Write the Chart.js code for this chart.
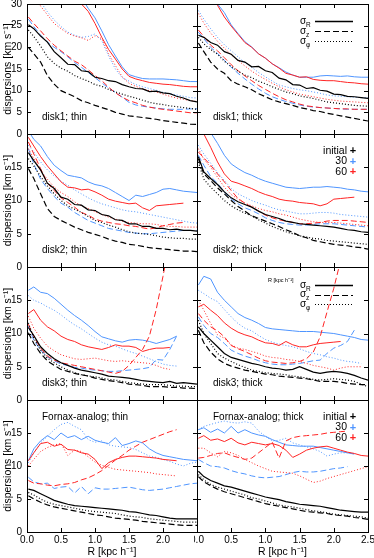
<!doctype html>
<html>
<head>
<meta charset="utf-8">
<title>dispersions</title>
<script src="https://cdn.jsdelivr.net/npm/chart.js@4"></script>
<style>
  body { margin: 0; background: #fff; }
  #wrap { position: relative; width: 374px; height: 558px; overflow: hidden; }
  #wrap canvas { position: absolute; }
</style>
</head>
<body>
<div id="wrap"></div>
<script>
// radius grid (kpc/h)
const R = [0.02,0.1,0.2,0.3,0.4,0.5,0.6,0.7,0.8,0.9,1.0,1.1,1.2,1.3,1.4,1.5,1.6,1.7,1.8,1.9,2.0,2.1,2.2,2.3,2.4,2.5];

// disk1; thin   (k = initial, r = 60, b = 30 ; R / z / phi)
const a_kR = [25.2,24.3,22.6,21.2,19.0,17.6,16.1,16.0,14.6,14.4,13.1,12.8,12.3,12.1,11.4,10.9,10.5,10.4,9.8,9.9,9.5,9.3,8.7,8.3,7.7,7.4];
const a_kz = [20.0,18.5,16.6,13.5,11.5,10.0,9.3,8.6,7.7,7.2,6.6,6.1,5.6,5.0,4.6,4.2,4.0,3.8,3.6,3.4,3.1,2.9,2.7,2.5,2.3,2.2];
const a_kp = [24.0,22.5,20.3,17.8,16.3,15.2,14.5,13.5,12.8,12.2,11.4,11.0,10.3,9.7,9.2,8.7,8.3,7.8,7.3,7.0,6.8,6.5,6.3,6.1,5.9,5.7];
const a_rR = [48,46,43,40,37.5,35.5,33.5,31.8,30.0,28.3,25.5,22.3,19.5,17.3,15.0,13.3,12.7,12.3,11.9,11.7,11.5,11.4,11.2,11.0,10.9,10.9];
const a_rz = [27.0,25.5,23.8,22.0,20.5,19.2,18.0,16.8,16.0,14.8,13.5,12.3,10.8,9.5,8.5,7.7,7.2,6.6,6.2,5.9,5.7,5.5,5.3,5.1,4.9,4.9];
const a_rp = [36,33,29.5,27.5,25.5,24.3,23.2,22.6,22.2,21.6,22.7,22.0,18.5,15.8,13.2,11.7,11.0,10.4,10.0,9.7,9.2,8.7,8.3,8.0,7.7,7.5];
const a_bR = [50,48,45,42,39.5,37.5,35.5,33.5,31.5,29.0,26.8,23.8,20.6,18.0,15.5,13.7,13.2,12.8,12.7,12.7,12.7,12.6,12.5,12.3,12.1,12.1];
const a_bz = [26.5,24.8,22.8,21.2,20.0,19.0,17.8,16.5,15.4,14.2,13.0,11.8,10.6,9.6,8.5,7.3,6.7,6.4,6.2,6.0,5.8,5.7,5.7,5.7,5.8,5.8];
const a_bp = [37,34,30.5,28.2,26.3,24.8,23.5,22.8,22.3,22.5,23.1,21.5,18.0,15.0,13.0,12.2,11.4,10.9,10.5,10.1,9.6,9.3,9.0,8.7,8.4,8.3];

// disk1; thick
const b_kR = [22.8,22.3,21.1,20.5,19.0,18.4,17.0,16.6,15.5,15.6,14.6,14.2,12.9,12.5,11.4,11.3,10.5,10.7,10.1,9.9,9.2,9.1,8.7,8.6,8.4,8.2];
const b_kz = [21.0,19.0,16.6,15.0,14.0,12.3,11.5,10.9,10.2,9.3,8.6,7.9,7.4,7.0,6.6,6.1,5.8,5.4,5.2,4.8,4.5,4.2,3.9,3.6,3.3,3.0];
const b_kp = [22.3,20.8,19.5,18.4,16.8,15.6,14.5,13.6,13.0,12.2,11.6,10.9,10.3,9.7,9.3,8.8,8.5,8.2,7.8,7.4,7.2,7.0,6.8,6.6,6.5,6.4];
const b_rR = [36,33,31.2,29.7,27.0,24.9,23.0,21.1,20.0,18.5,17.5,16.2,15.2,14.0,13.6,13.1,13.2,12.6,12.4,12.3,12.3,12.1,11.9,11.8,11.6,11.5];
const b_rz = [24.0,22.5,20.5,19.2,17.6,16.0,14.6,13.4,12.3,11.2,10.3,9.4,8.6,7.9,7.4,6.9,6.5,6.3,6.1,6.0,5.9,5.8,5.8,5.7,5.7,5.7];
const b_rp = [27.8,25.6,23.3,21.4,19.8,18.3,17.0,15.7,14.5,13.5,12.6,11.7,10.9,10.2,9.7,9.2,8.9,8.6,8.3,8.0,7.8,7.6,7.5,7.4,7.3,7.2];
const b_bR = [37,34,32,30.0,28.0,25.2,23.2,21.3,20.1,18.5,17.5,16.2,15.3,14.3,13.6,13.1,13.1,13.1,13.4,13.5,13.4,13.3,13.4,13.2,13.1,13.1];
const b_bz = [23.5,22.0,20.0,18.6,17.0,15.4,14.0,12.7,11.5,10.4,9.4,8.6,8.0,7.5,7.1,6.7,6.4,6.2,6.1,6.0,5.9,5.8,5.7,5.7,5.7,5.7];
const b_bp = [28.5,26.5,24.3,22.3,20.6,19.2,17.8,16.5,15.4,14.2,13.2,12.2,11.3,10.9,10.5,10.2,10.0,9.7,9.4,9.0,8.8,8.7,8.6,8.5,8.4,8.4];

// disk2; thin
const c_kR = [17.2,16.0,14.6,12.6,11.8,10.5,10.2,9.4,9.3,8.6,8.5,7.9,7.7,7.1,7.0,6.5,6.5,6.1,6.1,5.8,5.8,5.6,5.7,5.5,5.5,5.4];
const c_kz = [14.8,13.3,11.0,8.8,7.6,7.0,6.5,6.0,5.6,5.2,4.9,4.6,4.2,3.9,3.7,3.4,3.3,3.1,2.9,2.8,2.7,2.6,2.5,2.4,2.4,2.3];
const c_kp = [16.3,15.2,13.6,12.2,11.0,10.0,9.2,8.7,8.2,7.6,7.0,6.7,6.3,6.0,5.6,5.3,5.1,5.0,4.9,4.7,4.5,4.4,4.3,4.3,4.2,4.2];
const c_rR = [19.5,18.2,16.6,15.2,14.0,12.8,12.0,11.9,11.6,11.7,11.3,10.8,10.2,9.9,9.7,9.5,9.6,8.9,8.5,9.2,9.3,9.4,9.5,9.6,null,null];
const c_rz = [18.8,17.0,14.8,12.6,11.5,10.4,9.7,9.0,8.2,7.8,7.2,6.9,6.7,6.5,6.4,6.2,6.1,5.9,5.7,5.9,6.2,6.4,6.6,6.7,null,null];
const c_rp = [17.8,16.3,14.5,13.2,12.0,11.2,10.6,9.8,9.2,8.8,8.3,7.9,7.5,7.2,6.9,6.7,6.6,6.5,6.5,6.4,6.2,6.1,6.1,6.0,6.0,6.0];
const c_bR = [20.5,19.2,18.2,16.6,15.3,14.5,13.8,13.6,13.4,12.8,12.4,12.2,11.8,11.2,10.6,10.0,10.8,10.6,10.9,11.2,11.7,11.8,11.6,11.4,11.3,11.2];
const c_bz = [17.8,15.5,13.2,11.8,10.6,9.6,9.0,8.2,7.6,7.0,6.6,6.2,5.8,5.6,5.4,5.2,5.1,5.0,5.0,5.1,5.2,5.3,5.4,5.5,5.5,5.5];
const c_bp = [18.3,17.3,15.8,14.6,13.7,12.9,12.3,11.6,11.0,10.4,9.9,9.5,9.2,8.9,8.6,8.4,8.3,8.1,7.9,7.7,7.5,7.3,7.1,6.9,6.7,6.6];

// disk2; thick
const d_kR = [16.6,14.3,13.3,12.4,11.3,10.4,9.8,9.4,9.0,8.4,7.9,7.6,7.3,6.9,6.7,6.5,6.4,6.3,6.2,6.1,6.0,5.8,5.6,5.5,5.3,5.2];
const d_kz = [16.3,14.0,13.0,11.9,11.0,10.0,9.1,8.4,7.7,7.3,6.9,6.5,6.1,5.6,5.2,4.7,4.4,4.0,3.8,3.6,3.4,3.3,3.2,3.0,2.9,2.7];
const d_kp = [15.8,13.2,12.0,11.0,10.0,9.2,8.6,8.1,7.7,7.1,6.6,6.1,5.7,5.3,5.0,4.7,4.5,4.3,4.2,4.0,3.9,3.8,3.7,3.6,3.5,3.4];
const d_rR = [22,20.0,18.0,15.8,14.0,12.9,12.6,12.2,11.8,11.3,10.9,10.6,10.2,10.0,9.9,9.7,9.6,9.5,9.2,9.5,10.2,10.3,10.4,10.5,null,null];
const d_rz = [17.3,16.4,15.3,14.0,12.8,11.5,10.3,9.6,9.0,8.4,7.8,7.4,7.1,6.9,6.7,6.5,6.5,6.6,6.7,6.9,7.0,7.0,7.0,6.9,6.8,6.7];
const d_rp = [17.8,16.2,15.0,13.5,12.0,10.9,10.2,9.6,9.2,8.8,8.5,8.3,8.0,7.8,7.5,7.2,7.0,6.8,6.7,6.7,6.7,6.6,6.5,6.4,6.3,6.2];
const d_bR = [23,21.5,20.2,18.6,16.8,15.5,14.8,14.2,13.8,13.3,12.9,12.6,12.3,12.0,11.9,11.8,11.9,12.0,12.0,12.1,12.0,11.9,11.7,11.6,11.4,11.3];
const d_bz = [16.8,15.3,13.6,12.6,11.3,10.2,9.5,8.9,8.5,8.0,7.4,7.0,6.7,6.5,6.4,6.3,6.3,6.4,6.5,6.5,6.5,6.4,6.3,6.2,6.1,6.0];
const d_bp = [18.3,17.0,15.6,14.2,13.0,11.8,11.0,10.5,10.0,9.6,9.3,8.9,8.6,8.4,8.2,8.0,8.0,8.1,8.2,8.2,8.1,7.9,7.8,7.7,7.6,7.5];

// disk3; thin
const e_kR = [10.9,9.7,8.0,7.0,6.2,5.6,5.2,4.8,4.5,4.3,4.1,3.9,3.6,3.5,3.4,3.3,3.1,2.9,2.8,2.7,2.6,2.8,2.5,2.6,2.5,2.4];
const e_kz = [10.1,8.5,7.0,5.9,5.2,4.6,4.3,4.0,3.8,3.6,3.3,3.1,2.9,2.8,2.6,2.4,2.3,2.2,2.0,2.0,2.0,1.9,1.9,1.8,1.8,1.7];
const e_kp = [11.6,9.3,7.5,6.3,5.6,5.0,4.5,4.1,3.8,3.6,3.5,3.3,3.1,3.0,2.8,2.6,2.5,2.4,2.3,2.3,2.3,2.2,2.1,2.1,2.0,2.0];
const e_rR = [13.0,13.6,12.0,11.0,10.4,9.6,9.1,8.8,8.3,8.0,7.8,7.6,7.9,8.3,8.1,8.1,7.9,7.3,7.6,7.8,7.8,7.9,null,null,null,null];
const e_rz = [11.4,9.5,7.8,6.6,6.0,5.6,5.4,5.2,5.0,4.8,4.6,4.4,4.2,4.0,4.3,5.2,6.4,7.6,9.6,13.6,18.6,24,null,null,null,null];
const e_rp = [12.6,10.8,9.3,8.1,7.4,6.8,6.5,6.2,6.1,6.2,6.3,6.1,5.9,5.8,5.9,5.8,5.7,5.6,5.5,5.2,4.8,4.6,null,null,null,null];
const e_bR = [16.5,17.0,16.2,16.0,15.3,14.4,13.5,12.7,12.0,11.2,10.3,9.5,9.2,8.9,8.7,9.0,9.1,9.0,8.8,8.5,8.8,9.1,9.6,null,null,null];
const e_bz = [11.1,9.0,7.5,6.5,5.9,5.4,5.2,4.9,4.8,4.6,4.5,4.4,4.3,4.3,4.4,4.5,4.6,4.7,4.9,6.1,6.0,7.6,9.6,null,null,null];
const e_bp = [15.7,15.0,14.6,14.0,13.5,12.8,12.0,11.3,10.7,10.0,9.3,8.7,8.3,8.1,7.7,7.3,7.0,6.6,6.2,5.8,5.4,5.2,5.1,null,null,null];

// disk3; thick
const f_kR = [11.0,10.0,9.0,8.0,7.0,6.4,6.1,5.8,5.5,5.3,5.0,4.8,4.7,4.5,4.6,5.0,4.6,4.2,4.0,4.2,4.3,4.2,4.0,3.7,3.3,3.0];
const f_kz = [10.5,8.6,7.2,6.2,5.5,5.1,4.8,4.5,4.3,4.1,3.9,3.8,3.6,3.5,3.4,3.3,3.2,3.0,2.8,2.8,2.8,2.7,2.5,2.4,2.3,2.3];
const f_kp = [12.0,10.0,8.5,7.0,6.3,5.8,5.3,4.9,4.5,4.3,4.1,4.0,3.9,3.8,3.6,3.5,3.3,3.1,3.0,3.1,3.2,3.1,3.0,2.8,2.4,2.0];
const f_rR = [14.0,14.4,13.5,12.7,11.6,10.8,10.2,9.8,9.5,9.0,8.6,8.5,8.2,8.8,8.3,8.0,8.0,8.3,8.5,8.6,8.7,8.8,null,null,null,null];
const f_rz = [13.0,12.0,11.0,10.4,9.5,8.2,7.7,7.3,6.8,6.3,5.9,5.7,5.6,5.5,5.6,5.8,6.2,7.2,9.5,13.2,16.8,21.0,null,null,null,null];
const f_rp = [15.0,13.5,11.5,9.8,9.3,8.3,7.8,7.6,7.3,7.0,6.6,6.4,6.3,6.1,6.0,5.8,5.5,5.2,5.0,4.8,4.5,4.8,5.0,5.0,5.0,null];
const f_bR = [17.3,18.6,18.2,16.2,15.0,14.0,13.0,12.4,12.0,11.5,10.9,10.7,10.6,10.5,10.4,10.3,10.3,10.3,10.2,10.1,10.0,9.8,9.6,9.4,9.1,9.0];
const f_bz = [12.5,11.2,10.0,9.4,8.5,7.5,7.0,6.6,6.3,5.9,5.6,5.4,5.3,5.3,5.4,5.5,5.7,5.9,6.0,7.0,7.8,8.2,8.8,10.5,null,null];
const f_bp = [16.5,16.0,15.3,14.8,13.6,12.5,11.5,10.8,10.4,9.7,9.1,8.7,8.4,8.2,8.0,7.7,7.3,7.0,6.8,6.5,6.3,6.0,5.8,5.7,5.5,null];

// Fornax-analog; thin
const g_kR = [6.5,6.3,5.8,5.3,4.8,4.5,4.2,4.0,3.9,3.8,3.7,3.6,3.5,3.4,3.3,3.1,3.0,2.8,2.6,2.5,2.3,2.1,2.0,2.0,2.0,2.0];
const g_kz = [5.5,5.0,4.5,4.1,3.8,3.6,3.4,3.2,3.0,2.8,2.6,2.5,2.3,2.1,2.0,1.9,1.8,1.6,1.5,1.4,1.3,1.2,1.1,1.0,1.0,1.0];
const g_kp = [6.0,5.6,5.0,4.5,4.2,4.0,3.8,3.6,3.4,3.2,3.1,3.0,2.9,2.8,2.6,2.4,2.3,2.2,2.0,1.9,1.8,1.7,1.6,1.5,1.5,1.5];
const g_rR = [10.8,12.0,13.4,13.6,13.0,13.3,12.5,12.4,12.0,11.8,11.0,9.6,10.5,11.0,11.3,11.5,11.5,11.4,11.3,11.2,11.0,10.9,10.8,null,null,null];
const g_rz = [7.8,7.4,7.3,7.1,7.0,7.2,7.3,7.5,7.9,8.2,8.7,9.3,10.1,10.9,11.6,12.4,13.0,13.6,14.0,14.4,14.8,15.2,15.5,null,null,null];
const g_rp = [10.0,11.0,12.2,12.8,13.2,13.4,11.6,12.4,12.2,11.4,10.6,10.1,9.8,9.5,9.4,9.3,9.2,9.1,9.0,8.8,8.7,8.6,8.5,null,null,null];
const g_bR = [10.8,12.6,13.8,14.6,14.0,15.0,14.3,14.6,14.0,14.5,13.9,13.6,13.4,14.3,13.1,13.4,13.8,13.5,12.6,12.0,11.6,11.4,11.2,11.0,10.9,10.8];
const g_bz = [8.3,7.6,7.3,7.4,6.6,6.8,6.9,5.9,6.9,5.8,6.7,6.5,6.5,6.6,6.7,6.8,6.6,6.4,6.3,6.4,6.5,6.7,6.9,7.1,7.3,7.4];
const g_bp = [10.5,12.0,13.5,14.5,15.5,16.3,16.6,16.0,15.5,14.0,13.6,13.8,13.2,13.0,12.9,12.8,12.5,12.0,11.5,11.3,11.0,10.7,10.3,10.0,10.4,10.6];

// Fornax-analog; thick
const h_kR = [9.2,8.4,7.8,7.4,7.0,6.8,6.5,6.2,5.9,5.6,5.3,5.1,4.9,4.6,4.4,4.2,4.1,4.0,3.9,3.7,3.5,3.3,3.2,3.1,3.0,3.0];
const h_kz = [8.4,7.6,7.0,6.5,6.1,5.8,5.5,5.2,4.9,4.6,4.3,4.1,3.9,3.7,3.5,3.3,3.1,3.0,2.9,2.8,2.6,2.5,2.4,2.2,2.1,1.9];
const h_kp = [8.7,7.9,7.2,6.8,6.5,6.2,5.9,5.6,5.2,5.0,4.7,4.4,4.1,3.9,3.8,3.6,3.4,3.2,3.1,2.9,2.7,2.6,2.5,2.4,2.3,2.1];
const h_rR = [14.2,14.6,13.9,14.1,13.7,14.2,13.5,13.2,13.6,13.4,13.2,13.4,13.1,12.4,11.3,11.8,12.4,12.7,12.9,13.0,12.7,12.4,12.1,11.9,11.6,11.5];
const h_rz = [11.2,11.3,11.6,11.9,12.0,11.6,11.3,11.0,11.2,12.0,12.8,13.6,11.2,13.8,14.3,14.5,14.6,14.7,14.8,15.0,15.1,15.2,15.3,null,null,null];
const h_rp = [12.7,12.7,12.0,11.4,12.2,12.0,11.6,11.0,10.5,10.0,9.6,9.2,9.1,9.0,8.9,8.5,8.0,7.5,7.7,8.1,8.4,8.7,9.0,9.3,9.6,9.9];
const h_bR = [15.5,15.8,15.1,15.6,15.0,16.0,15.0,15.5,15.0,14.7,14.5,14.0,13.6,13.2,13.1,13.0,13.0,13.0,12.8,12.6,12.4,12.2,12.0,11.8,null,null];
const h_bz = [11.0,10.5,10.0,9.9,9.7,9.3,9.0,8.8,8.5,8.3,8.2,8.3,8.4,8.7,9.0,9.2,9.1,9.1,9.2,9.4,9.6,9.7,9.9,null,null,null];
const h_bp = [15.5,16.0,16.3,16.6,16.8,16.6,16.5,16.7,16.5,15.3,14.5,13.8,13.9,14.2,13.5,13.2,12.9,12.6,12.2,11.5,11.8,12.0,12.0,11.9,null,null];

const xTicks = [0.5, 1.0, 1.5, 2.0];
const runNames = ['initial', '30', '60'];
const sigmaSubs = ['R', 'z', 'φ'];

const panels = [
  { row: 0, col: 0, ymax: 30, name: 'disk1; thin', s: [a_kR,a_kz,a_kp,a_rR,a_rz,a_rp,a_bR,a_bz,a_bp] },
  { row: 0, col: 1, ymax: 30, name: 'disk1; thick', s: [b_kR,b_kz,b_kp,b_rR,b_rz,b_rp,b_bR,b_bz,b_bp], legend: 'sigma' },
  { row: 1, col: 0, ymax: 20, name: 'disk2; thin', s: [c_kR,c_kz,c_kp,c_rR,c_rz,c_rp,c_bR,c_bz,c_bp] },
  { row: 1, col: 1, ymax: 20, name: 'disk2; thick', s: [d_kR,d_kz,d_kp,d_rR,d_rz,d_rp,d_bR,d_bz,d_bp], legend: 'runs' },
  { row: 2, col: 0, ymax: 20, name: 'disk3; thin', s: [e_kR,e_kz,e_kp,e_rR,e_rz,e_rp,e_bR,e_bz,e_bp] },
  { row: 2, col: 1, ymax: 20, name: 'disk3; thick', s: [f_kR,f_kz,f_kp,f_rR,f_rz,f_rp,f_bR,f_bz,f_bp], legend: 'sigma2' },
  { row: 3, col: 0, ymax: 20, name: 'Fornax-analog; thin', s: [g_kR,g_kz,g_kp,g_rR,g_rz,g_rp,g_bR,g_bz,g_bp], top: true },
  { row: 3, col: 1, ymax: 20, name: 'Fornax-analog; thick', s: [h_kR,h_kz,h_kp,h_rR,h_rz,h_rp,h_bR,h_bz,h_bp], top: true, legend: 'runs' },
];

const FONT = '"Liberation Sans", Arial, sans-serif';
const colors = ['#000000', '#ff2424', '#4f95ff'];   // initial, 60, 30
const runColors = ['#000000', '#4f95ff', '#ff2424']; // legend order: initial, 30, 60
const dashes = [[], [6, 3], [1, 2]];

// page layout of the plot boxes
const rowTop = [4, 134, 267, 400], rowBot = [134, 267, 400, 532];
const colL = [27, 197], colR = [197, 368];

Chart.defaults.font.family = FONT;
Chart.defaults.color = '#000';

function sigmaLegend(ctx, a, dy, gap) {
  sigmaSubs.forEach((sub, i) => {
    const yy = a.top + dy + i * gap;
    ctx.fillStyle = '#000';
    ctx.textAlign = 'left';
    ctx.textBaseline = 'middle';
    ctx.font = '10px ' + FONT;
    ctx.fillText('σ', a.right - 68, yy);
    ctx.font = '6.5px ' + FONT;
    ctx.fillText(sub, a.right - 62, yy + 4);
    ctx.setLineDash(dashes[i]);
    ctx.lineWidth = i === 0 ? 1.5 : 1;
    ctx.strokeStyle = '#000';
    ctx.beginPath();
    ctx.moveTo(a.right - 53, Math.round(yy) + 0.5);
    ctx.lineTo(a.right - 15, Math.round(yy) + 0.5);
    ctx.stroke();
    ctx.setLineDash([]);
  });
}

function runsLegend(ctx, a) {
  runNames.forEach((n, i) => {
    const yy = a.top + 17 + i * 10.5;
    ctx.textBaseline = 'middle';
    ctx.font = '10.5px ' + FONT;
    ctx.fillStyle = '#000';
    ctx.textAlign = 'right';
    ctx.fillText(n, a.right - 21, yy);
    ctx.fillStyle = runColors[i];
    ctx.textAlign = 'center';
    ctx.font = 'bold 11px ' + FONT;
    ctx.fillText('+', a.right - 15, yy);
  });
}

const framePlugin = {
  id: 'frame',
  afterDatasetsDraw(chart, args, opts) {
    const { ctx, chartArea: a, scales: { x, y } } = chart;
    const p = opts.panel;
    ctx.save();
    ctx.strokeStyle = '#000';
    ctx.lineWidth = 1;
    ctx.strokeRect(Math.round(a.left) + 0.5, Math.round(a.top) + 0.5,
                   Math.round(a.right - a.left), Math.round(a.bottom - a.top));
    // inward ticks on all four sides
    ctx.beginPath();
    xTicks.forEach(v => {
      const px = Math.round(x.getPixelForValue(v)) + 0.5;
      ctx.moveTo(px, a.bottom); ctx.lineTo(px, a.bottom - 4);
      ctx.moveTo(px, a.top); ctx.lineTo(px, a.top + 4);
    });
    for (let v = 5; v < p.ymax; v += 5) {
      const py = Math.round(y.getPixelForValue(v)) + 0.5;
      ctx.moveTo(a.left, py); ctx.lineTo(a.left + 4, py);
      ctx.moveTo(a.right, py); ctx.lineTo(a.right - 4, py);
    }
    ctx.stroke();

    // panel name
    ctx.fillStyle = '#000';
    ctx.font = '10px ' + FONT;
    ctx.textAlign = 'left';
    ctx.textBaseline = 'middle';
    const lx = a.left + (p.col === 0 ? 15 : 16);
    ctx.fillText(p.name, lx, p.top ? a.top + 17 : a.bottom - 17);

    if (p.legend === 'sigma') sigmaLegend(ctx, a, 17, 10);
    if (p.legend === 'sigma2') {
      ctx.font = '5.5px ' + FONT;
      ctx.fillStyle = '#000';
      ctx.textAlign = 'left';
      ctx.fillText('R [kpc h⁻¹]', a.right - 100, a.top + 13);
      sigmaLegend(ctx, a, 18, 9.5);
    }
    if (p.legend === 'runs') runsLegend(ctx, a);
    ctx.restore();
  }
};

const wrap = document.getElementById('wrap');

panels.forEach(p => {
  const bottom = p.row === 3;
  const leftCol = p.col === 0;
  const left = leftCol ? 0 : colL[1] - 3;
  const width = leftCol ? 200 : 374 - left;
  const top = Math.max(0, rowTop[p.row] - 8);
  const height = (bottom ? 558 : rowBot[p.row] + 8) - top;

  const cv = document.createElement('canvas');
  cv.width = width; cv.height = height;
  cv.style.left = left + 'px'; cv.style.top = top + 'px';
  cv.style.width = width + 'px'; cv.style.height = height + 'px';
  wrap.appendChild(cv);

  const datasets = p.s.map((arr, i) => ({
    data: R.map((r, j) => ({ x: r, y: arr[j] })),
    borderColor: colors[Math.floor(i / 3)],
    borderDash: dashes[i % 3],
    borderWidth: i < 3 ? 1.2 : 1,
    pointRadius: 0,
    tension: 0,
    fill: false,
    spanGaps: false
  }));

  new Chart(cv, {
    type: 'line',
    data: { datasets },
    plugins: [framePlugin],
    options: {
      responsive: false,
      animation: false,
      events: [],
      layout: {
        padding: {
          left: leftCol ? 0 : colL[1] - left,
          right: left + width - colR[p.col],
          top: rowTop[p.row] - top,
          bottom: bottom ? 0 : top + height - rowBot[p.row]
        }
      },
      plugins: { legend: { display: false }, tooltip: { enabled: false }, frame: { panel: p } },
      scales: {
        x: {
          type: 'linear', min: 0, max: 2.5,
          display: bottom,
          grid: { display: false, drawTicks: false },
          border: { display: false },
          ticks: {
            stepSize: 0.5, autoSkip: false, maxRotation: 0, padding: 2,
            font: { size: 10 },
            callback: v => (leftCol && v === 2.5) ? '' : v.toFixed(1)
          },
          title: { display: true, text: 'R [kpc h⁻¹]', font: { size: 10.5 }, padding: { top: 0, bottom: 0 } },
          afterFit: s => {
            if (!bottom) return;
            s.height = 26; s.paddingLeft = 0; s.paddingRight = 0;
          }
        },
        y: {
          type: 'linear', min: 0, max: p.ymax,
          display: leftCol,
          grid: { display: false, drawTicks: false },
          border: { display: false },
          ticks: {
            stepSize: 5, autoSkip: false, padding: 5,
            font: { size: 10 },
            callback: v => (p.row > 0 && v === p.ymax) ? '' : v
          },
          title: { display: true, text: 'dispersions [km s⁻¹]', font: { size: 10.5 }, padding: { top: 2, bottom: 0 } },
          afterFit: s => {
            if (!leftCol) return;
            s.width = 27; s.paddingTop = 0; s.paddingBottom = 0;
          }
        }
      }
    }
  });
});
</script>
</body>
</html>
